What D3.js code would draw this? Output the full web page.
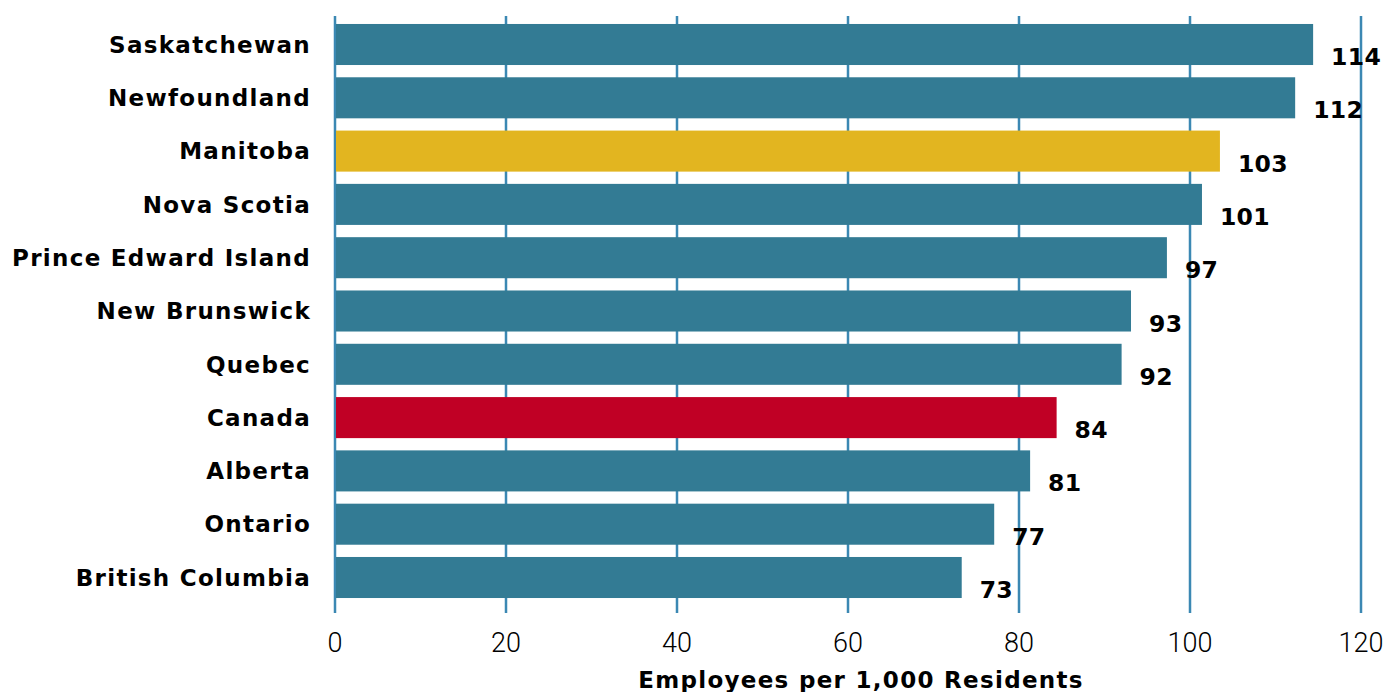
<!DOCTYPE html>
<html lang="en">
<head>
    <meta charset="UTF-8">
    <title>Employees per 1,000 Residents</title>
    <style>
        body { margin: 0; background: #fff; }
        .cat { font-family: "DejaVu Sans", sans-serif; font-weight: bold; font-size: 23px; letter-spacing: 1.3px; fill: #000; }
        .val { font-family: "DejaVu Sans", sans-serif; font-weight: bold; font-size: 23.5px; letter-spacing: 0.3px; fill: #000; }
        .tick-label { font-family: Roboto, sans-serif; font-weight: 300; font-size: 27px; fill: #000; }
        .axis-title { font-family: "DejaVu Sans", sans-serif; font-weight: bold; font-size: 23px; letter-spacing: 1.3px; fill: #000; }
    </style>
</head>
<body>
    <svg id="chart" width="1388" height="692"></svg>
    <script src="https://d3js.org/d3.v7.min.js"></script>
    <script>
        var provinces = ["Saskatchewan", "Newfoundland", "Manitoba", "Nova Scotia", "Prince Edward Island",
                         "New Brunswick", "Quebec", "Canada", "Alberta", "Ontario", "British Columbia"];
        var values = [114.4, 112.3, 103.5, 101.4, 97.3, 93.1, 92.0, 84.4, 81.3, 77.1, 73.3];
        var valueLabels = ["114", "112", "103", "101", "97", "93", "92", "84", "81", "77", "73"];
        var xTicks = [0, 20, 40, 60, 80, 100, 120];

        var colorFor = function(name) {
            if (name === "Manitoba") return "#e2b520";
            if (name === "Canada") return "#c00025";
            return "#337b94";
        };

        var svg = d3.select("#chart");

        var x = d3.scaleLinear().domain([0, 120]).range([335, 1361]);
        var y = d3.scaleBand()
                  .domain(provinces)
                  .range([17.85, 604.15])
                  .paddingInner(0.23)
                  .paddingOuter(0.115);

        // gridlines
        svg.append("g").selectAll("line")
            .data(xTicks)
            .enter().append("line")
            .attr("x1", function(d) { return x(d); })
            .attr("x2", function(d) { return x(d); })
            .attr("y1", 16)
            .attr("y2", 613)
            .attr("stroke", "#3b88b3")
            .attr("stroke-width", 2.5);

        // bars
        svg.append("g").selectAll("rect")
            .data(provinces)
            .enter().append("rect")
            .attr("x", x(0) + 1)
            .attr("y", function(d) { return y(d); })
            .attr("width", function(d, i) { return x(values[i]) - x(0) - 1; })
            .attr("height", y.bandwidth())
            .attr("fill", colorFor);

        // category labels
        svg.append("g").selectAll("text")
            .data(provinces)
            .enter().append("text")
            .attr("class", "cat")
            .attr("x", 311)
            .attr("y", function(d) { return y(d) + y.bandwidth() / 2; })
            .attr("dy", "0.36em")
            .attr("text-anchor", "end")
            .text(function(d) { return d; });

        // value labels, baseline on bar bottom
        svg.append("g").selectAll("text")
            .data(provinces)
            .enter().append("text")
            .attr("class", "val")
            .attr("x", function(d, i) { return x(values[i]) + 18; })
            .attr("y", function(d) { return y(d) + y.bandwidth(); })
            .text(function(d, i) { return valueLabels[i]; });

        // x tick labels
        svg.append("g").selectAll("text")
            .data(xTicks)
            .enter().append("text")
            .attr("class", "tick-label")
            .attr("x", function(d) { return x(d); })
            .attr("y", 652)
            .attr("text-anchor", "middle")
            .text(function(d) { return d; });

        svg.append("text")
            .attr("class", "axis-title")
            .attr("x", 861)
            .attr("y", 688)
            .attr("text-anchor", "middle")
            .text("Employees per 1,000 Residents");
    </script>
</body>
</html>
